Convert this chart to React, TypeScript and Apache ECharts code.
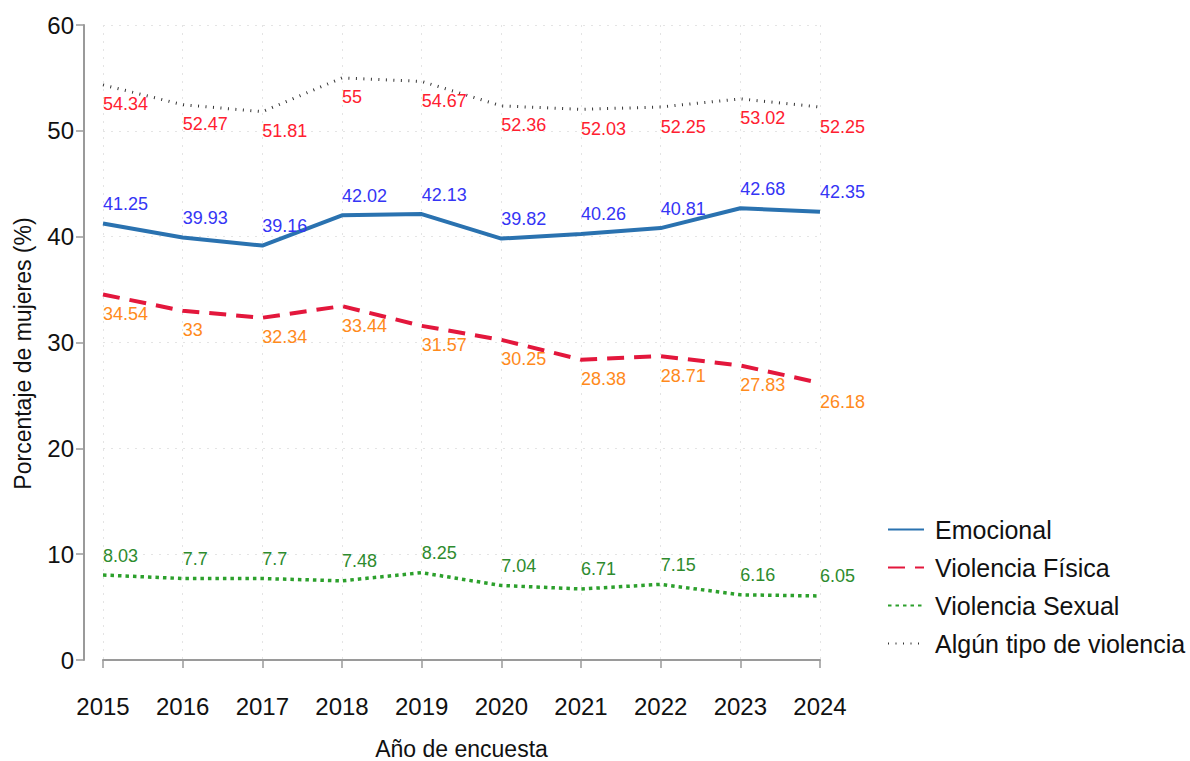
import React, { useEffect, useRef } from "react";
import * as echarts from "echarts";

const years = ["2015", "2016", "2017", "2018", "2019", "2020", "2021", "2022", "2023", "2024"];
const emocional = [41.25, 39.93, 39.16, 42.02, 42.13, 39.82, 40.26, 40.81, 42.68, 42.35];
const fisica = [34.54, 33, 32.34, 33.44, 31.57, 30.25, 28.38, 28.71, 27.83, 26.18];
const sexual = [8.03, 7.7, 7.7, 7.48, 8.25, 7.04, 6.71, 7.15, 6.16, 6.05];
const algun = [54.34, 52.47, 51.81, 55, 54.67, 52.36, 52.03, 52.25, 53.02, 52.25];
const seriesNames = ["Emocional", "Violencia Física", "Violencia Sexual", "Algún tipo de violencia"];

const FONT = 'Arial, "Liberation Sans", sans-serif';

export default function App() {
  const ref = useRef<HTMLDivElement>(null);
  useEffect(() => {
    if (!ref.current) return;
    const chart = echarts.init(ref.current, undefined, { renderer: "svg" });
    const lbl = (color: string, pos: "top" | "bottom") => ({
      show: true,
      position: pos,
      align: "left",
      offset: [-5, 0],
      distance: 10,
      color,
      fontSize: 18,
      fontFamily: FONT,
    });
    const common = {
      type: "line",
      symbol: "circle",
      symbolSize: 1,
      showSymbol: true,
      showAllSymbol: true,
      itemStyle: { color: "rgba(0,0,0,0)", borderWidth: 0 },
      emphasis: { disabled: true },
      labelLayout: { hideOverlap: false },
    };
    chart.setOption({
      animation: false,
      backgroundColor: "#ffffff",
      textStyle: { fontFamily: FONT },
      grid: { left: 103, right: 370, top: 25, bottom: 101, outerBoundsMode: "none", containLabel: false },
      legend: {
        orient: "vertical",
        left: 882,
        top: 512,
        itemWidth: 36,
        itemHeight: 14,
        itemGap: 13,
        textStyle: { fontSize: 25, color: "#111", fontFamily: FONT, padding: [0, 0, 0, 6] },
        data: seriesNames,
      },
      xAxis: {
        type: "category",
        data: years,
        boundaryGap: false,
        offset: 20,
        name: "Año de encuesta",
        nameLocation: "middle",
        nameGap: 57,
        nameTextStyle: { fontSize: 23, color: "#111", fontFamily: FONT },
        axisLine: { show: true, lineStyle: { color: "#9a9a9a", width: 2 } },
        axisTick: { show: true, length: 8, lineStyle: { color: "#9a9a9a", width: 1.5 }, alignWithLabel: true },
        axisLabel: { fontSize: 24, color: "#111", margin: 14, fontFamily: FONT },
        splitLine: { show: true, lineStyle: { color: "#e4e4e4", type: [2, 6], width: 1 } },
      },
      yAxis: {
        type: "value",
        min: 0,
        max: 60,
        interval: 10,
        offset: 19,
        name: "Porcentaje de mujeres (%)",
        nameLocation: "middle",
        nameRotate: 90,
        nameGap: 50,
        nameTextStyle: { fontSize: 23, color: "#111", fontFamily: FONT, padding: [0, 22, 0, 0] },
        axisLine: { show: true, lineStyle: { color: "#9a9a9a", width: 2 } },
        axisTick: { show: true, length: 8, lineStyle: { color: "#9a9a9a", width: 1.5 } },
        axisLabel: { fontSize: 24, color: "#111", margin: 10, fontFamily: FONT },
        splitLine: { show: true, lineStyle: { color: "#e4e4e4", type: [2, 6], width: 1 } },
      },
      series: [
        {
          ...common,
          name: seriesNames[0],
          data: emocional,
          color: "#2a72b0",
          lineStyle: { color: "#2a72b0", width: 4 },
          label: lbl("#3535f5", "top"),
          z: 4,
        },
        {
          ...common,
          name: seriesNames[1],
          data: fisica,
          color: "#e3173c",
          lineStyle: { color: "#e3173c", width: 4, type: [17, 10] },
          label: lbl("#ff8a1c", "bottom"),
          z: 3,
        },
        {
          ...common,
          name: seriesNames[2],
          data: sexual,
          color: "#2ca02c",
          lineStyle: { color: "#2ca02c", width: 3.5, type: [3.5, 4] },
          label: lbl("#2e8b2e", "top"),
          z: 3,
        },
        {
          ...common,
          name: seriesNames[3],
          data: algun,
          color: "#333333",
          lineStyle: { color: "#333333", width: 3, type: [1, 6.5] },
          label: lbl("#ff2030", "bottom"),
          z: 2,
        },
      ],
    });
    return () => chart.dispose();
  }, []);
  return (
    <div
      ref={ref}
      style={{ position: "fixed", left: 0, top: 0, width: 1190, height: 761, background: "#fff" }}
    />
  );
}
